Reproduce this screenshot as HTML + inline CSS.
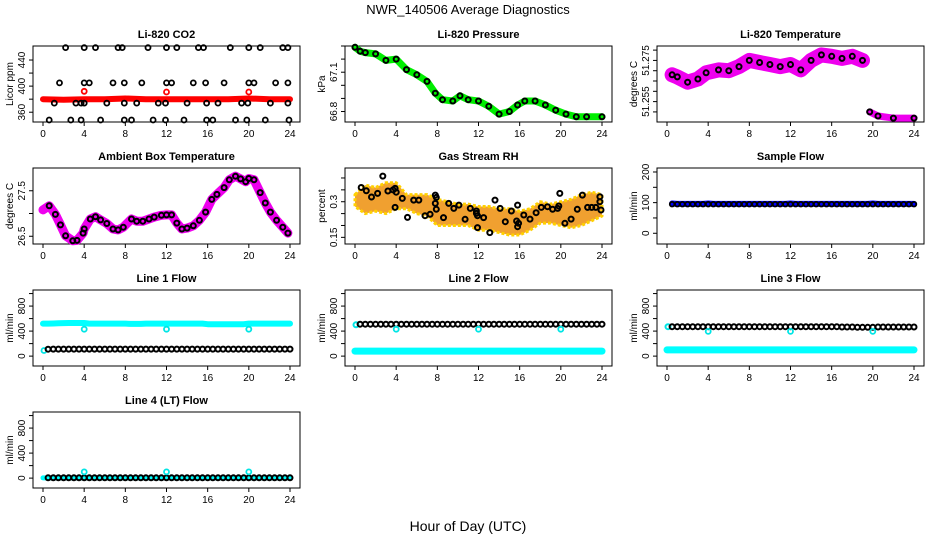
<!DOCTYPE html>
<html><head><meta charset="utf-8"><style>
html,body{margin:0;padding:0;background:#fff;}
svg text{font-family:"Liberation Sans",sans-serif;}
</style></head><body>
<svg id="chart" width="936" height="540" viewBox="0 0 936 540" xmlns="http://www.w3.org/2000/svg">
<text x="468" y="14" font-size="13" text-anchor="middle">NWR_140506  Average Diagnostics</text>
<text x="468" y="531" font-size="14" text-anchor="middle">Hour of Day (UTC)</text>
</svg>
<script>
// ---- data ----
const xTicks = [0,4,8,12,16,20,24];
// CO2
const co2RedHours = [0,2,4,6,8,10,12,14,16,18,20,22,24];
const co2RedVals = [380,379,380,380,381,380,380,380,380,380,381,380,380];
const co2RedOutHours = [4,12,20];
const co2RedOutVals = [392,391,391];
const co2BlkHours = [2.2,4,5.1,7.3,7.7,10.2,12,13,15.1,15.6,18.2,20,21.1,23.3,23.8, 1.6,4,4.5,6.8,7.9,9.6,12,12.5,14.6,15.8,17.6,20,20.5,22.6,23.8, 1.1,3.2,3.7,4,6.2,7.9,9.1,11.2,11.9,14,15.9,17,19.3,19.9,22.1,23.8, 0.6,2.7,3.7,5.6,7.9,8.6,10.7,11.9,13.7,15.9,16.5,18.7,19.8,21.6,23.9];
const co2BlkVals = [459,459,459,459,459,459,459,459,459,459,459,459,459,459,459, 405,405,405,405,405,405,405,405,405,405,405,405,405,405,405, 374,374,374,374,374,374,374,374,374,374,374,374,374,374,374,374, 348,348,348,348,348,348,348,348,348,348,348,348,348,348,348];
// Pressure
const presHours = [0,0.5,1,2,3,4,5,6,7,7.8,8.5,9.5,10.2,11,12,13,14,15,15.8,16.5,17.5,18.5,19.5,20.5,21.5,22.5,24];
const presVals = [67.29,67.26,67.25,67.24,67.19,67.2,67.12,67.08,67.03,66.94,66.89,66.88,66.92,66.89,66.88,66.84,66.78,66.8,66.85,66.88,66.88,66.85,66.81,66.78,66.76,66.76,66.76];
// Li-820 temperature
const tempHours = [0.5,1,2,3,3.8,5,6,7,8,9,10,11,12,13,14,15,16,17,18,19,19.7,20.5,22,24];
const tempVals = [51.268,51.267,51.2644,51.266,51.269,51.2704,51.270,51.272,51.275,51.274,51.273,51.272,51.273,51.2704,51.275,51.2777,51.277,51.276,51.277,51.275,51.25,51.248,51.247,51.247];
// Ambient
const ambHours = [0,0.6,1.2,1.7,2.2,2.9,3.3,3.9,4.0,4.6,5.1,5.6,6.2,6.8,7.3,7.8,8.6,9.1,9.7,10.3,10.8,11.5,12,12.5,13,13.5,14,14.6,15.2,15.8,16.4,16.9,17.6,18.1,18.7,19.2,19.7,20,20.5,21.1,21.6,22.1,22.7,23.3,23.8];
const ambVals = [27.08,27.17,26.98,26.75,26.51,26.40,26.41,26.57,26.66,26.88,26.93,26.86,26.78,26.66,26.64,26.70,26.88,26.83,26.83,26.88,26.92,26.96,26.97,26.97,26.79,26.66,26.68,26.73,26.85,27.03,27.31,27.42,27.57,27.74,27.82,27.76,27.70,27.77,27.74,27.46,27.23,27.03,26.85,26.70,26.57];
// Gas stream RH
const rhBandHours = [0,1,2,3,4,5,6,7,8,9,10,11,12,13,14,15,16,17,18,19,20,21,22,23,24];
const rhUpper = [0.33,0.37,0.36,0.38,0.38,0.33,0.33,0.33,0.31,0.30,0.29,0.29,0.28,0.28,0.27,0.27,0.26,0.27,0.30,0.29,0.30,0.31,0.33,0.34,0.33];
const rhLower = [0.28,0.25,0.26,0.25,0.27,0.27,0.25,0.24,0.20,0.20,0.20,0.20,0.18,0.18,0.17,0.16,0.16,0.18,0.21,0.21,0.20,0.19,0.20,0.22,0.24];
const rhHours = [0.6,1.1,1.6,2.2,2.7,3.2,3.7,3.9,4.0,3.9,4.6,5.1,5.7,6.2,6.8,7.3,7.8,7.9,7.9,7.8,8.6,9.1,9.6,10.1,10.7,11.2,11.8,11.8,11.9,11.9,12.5,13.1,13.6,14.1,14.6,15.2,15.7,15.8,15.8,15.9,16.4,17,17.6,18.1,18.7,19.2,19.7,19.8,19.9,20.4,21,21.6,22.1,22.6,23,23.4,23.8,23.8,23.9];
const rhVals = [0.36,0.346,0.32,0.335,0.408,0.345,0.35,0.356,0.34,0.276,0.314,0.234,0.307,0.307,0.241,0.247,0.328,0.318,0.268,0.293,0.233,0.293,0.272,0.286,0.226,0.272,0.261,0.251,0.241,0.191,0.233,0.17,0.307,0.272,0.216,0.261,0.219,0.286,0.195,0.209,0.244,0.227,0.254,0.276,0.279,0.268,0.272,0.282,0.335,0.209,0.227,0.268,0.328,0.276,0.276,0.276,0.321,0.3,0.265];
// flows: 0.5 h steps from 0.5 to 24
const flowHours = [0.5,1,1.5,2,2.5,3,3.5,4,4.5,5,5.5,6,6.5,7,7.5,8,8.5,9,9.5,10,10.5,11,11.5,12,12.5,13,13.5,14,14.5,15,15.5,16,16.5,17,17.5,18,18.5,19,19.5,20,20.5,21,21.5,22,22.5,23,23.5,24];
const sampleBlue = [97,96,96,96,96,96,96,97,96,96,96,96,96,96,96,96,96,96,96,96,96,96,96,97,96,96,96,96,96,96,96,96,96,96,96,96,96,96,96,97,96,96,96,96,96,96,96,96];
const sampleBlack = [95,95,95,95,95,95,95,95,95,95,95,95,95,95,95,95,95,95,95,95,95,95,95,95,95,95,95,95,95,95,95,95,95,95,95,95,95,95,95,95,95,95,95,95,95,95,95,95];
const line1Cyan = [520,522,525,528,530,530,530,530,520,520,520,520,520,520,520,520,515,515,515,520,520,520,520,520,520,520,520,520,520,520,520,510,510,510,510,510,510,510,510,520,520,520,520,520,520,520,520,520];
const line1Black = [110,112,112,112,112,112,112,112,112,112,112,112,112,112,112,112,112,112,112,112,112,112,112,112,112,112,112,112,112,112,112,112,112,112,112,112,112,112,112,112,112,112,112,112,112,112,112,112];
const line2Black = [510,510,510,510,510,510,510,510,510,510,510,510,510,510,510,510,510,510,510,510,510,510,510,510,510,510,510,510,510,510,510,510,510,510,510,510,510,510,510,510,510,510,510,510,510,510,510,510];
const line2Cyan = [80,80,80,80,80,80,80,80,80,80,80,80,80,80,80,80,80,80,80,80,80,80,80,80,80,80,80,80,80,80,80,80,80,80,80,80,80,80,80,80,80,80,80,80,80,80,80,80];
const line3Black = [470,470,470,470,470,470,470,470,470,470,470,470,470,470,470,470,470,470,470,470,470,470,470,470,470,470,470,470,470,470,470,470,470,465,465,465,460,460,460,460,465,465,465,465,465,465,465,465];
const line3Cyan = [100,100,100,100,100,100,100,100,100,100,100,100,100,100,100,100,100,100,100,100,100,100,100,100,100,100,100,100,100,100,100,100,100,100,100,100,100,100,100,100,100,100,100,100,100,100,100,100];
const line4Black = [5,5,5,5,5,5,5,5,5,5,5,5,5,5,5,5,5,5,5,5,5,5,5,5,5,5,5,5,5,5,5,5,5,5,5,5,5,5,5,5,5,5,5,5,5,5,5,5];
const line4Cyan = [3,3,3,3,3,3,3,3,3,3,3,3,3,3,3,3,3,3,3,3,3,3,3,3,3,3,3,3,3,3,3,3,3,3,3,3,3,3,3,3,3,3,3,3,3,3,3,3];
const outHours = [4,12,20];
const line1Out = [430,430,430];
const line2Out = [430,430,430];
const line3Out = [395,395,395];
const line4Out = [100,100,100];
const line1StartHours = [0.1];
const line1StartVals = [90];
const ch1Starts = [0.1];
const line23StartVals = [500];
const line3StartVals = [470];

// ---- drawing ----
const svg = document.getElementById('chart');
const NS = 'http://www.w3.org/2000/svg';
function mk(tag, attrs, parent){
  const e = document.createElementNS(NS, tag);
  for (const k in attrs) e.setAttribute(k, attrs[k]);
  (parent||svg).appendChild(e);
  return e;
}
function panel(col,row,title,ylab,ymin,ymax,yticks,ylabels,name){
  const L = 33 + 312*col, T = 46 + 122*row, W = 267, H = 76;
  const g = mk('g',{});
  
  
  const xs = h => L + 10 + h*(247/24);
  const ys = v => T + (ymax - v)/(ymax-ymin)*H;
  const box = mk('rect',{x:L,y:T,width:W,height:H,fill:'none',stroke:'#000','stroke-width':1},g);
  
  
  const t = mk('text',{x:L+W/2,y:T-8,'font-size':11,'font-weight':'bold','text-anchor':'middle'},g);
  t.textContent = title;
  
  
  const xa = mk('line',{x1:xs(0),x2:xs(24),y1:T+H,y2:T+H,stroke:'#000'},g);
  
  
  xTicks.forEach(v=>{
    mk('line',{x1:xs(v),x2:xs(v),y1:T+H,y2:T+H+4,stroke:'#000'},g);
    const tl = mk('text',{x:xs(v),y:T+H+15,'font-size':10,'text-anchor':'middle'},g);
    tl.textContent = v;
    
    
  });
  const ya = mk('line',{x1:L,x2:L,y1:ys(yticks[0]),y2:ys(yticks[yticks.length-1]),stroke:'#000'},g);
  
  
  yticks.forEach(v=>{
    mk('line',{x1:L-4,x2:L,y1:ys(v),y2:ys(v),stroke:'#000'},g);
  });
  ylabels.forEach(v=>{
    const y = ys(v);
    const tl = mk('text',{x:L-8,y:y,'font-size':10,'text-anchor':'middle',transform:`rotate(-90 ${L-8} ${y})`},g);
    tl.textContent = String(v);
    
    
  });
  const yt = mk('text',{x:L-20,y:T+H/2,'font-size':10,'text-anchor':'middle',transform:`rotate(-90 ${L-20} ${T+H/2})`},g);
  yt.textContent = ylab;
  
  
  return {g,xs,ys};
}
function band(p,hours,vals,color,w,name){
  const pts = hours.map((h,i)=>p.xs(h).toFixed(1)+','+p.ys(vals[i]).toFixed(1)).join(' ');
  const e = mk('polyline',{points:pts,fill:'none',stroke:color,'stroke-width':w,'stroke-linejoin':'round','stroke-linecap':'round'},p.g);
  
  
}
function pts(p,hours,vals,color,r,sw,name){
  hours.forEach((h,i)=>{
    const c = mk('circle',{cx:p.xs(h).toFixed(1),cy:p.ys(vals[i]).toFixed(1),r:r,fill:'none',stroke:color,'stroke-width':sw},p.g);
    
    
  });
}
const blk = '#000';
let p = panel(0,0,'Li-820 CO2','Licor ppm',345,461.5,[360,380,400,420,440],[360,400,440],'panel-co2');
band(p,co2RedHours,co2RedVals,'#ff0000',6,'co2-red-band');
pts(p,co2RedOutHours,co2RedOutVals,'#ff0000',2.5,1.8,'co2-red-point');
pts(p,co2BlkHours,co2BlkVals,blk,2.5,1.8,'co2-point');
p = panel(1,0,'Li-820 Pressure','kPa',66.72,67.30,[66.8,66.9,67.0,67.1,67.2,67.3],[66.8,67.1],'panel-pressure');
band(p,presHours,presVals,'#00ee00',7,'pressure-green-band');
pts(p,presHours,presVals,blk,2.5,2,'pressure-point');
p = panel(2,0,'Li-820 Temperature','degrees C',51.2451,51.282,[51.25,51.255,51.26,51.265,51.27,51.275,51.28],[51.255,51.275],'panel-li820-temp');
band(p,tempHours.slice(0,20),tempVals.slice(0,20),'#ee00ee',15,'temp-magenta-band');
band(p,tempHours.slice(20),tempVals.slice(20),'#ee00ee',7,'temp-magenta-band-late');
pts(p,tempHours,tempVals,blk,2.5,2,'temp-point');
p = panel(0,1,'Ambient Box Temperature','degrees C',26.33,28.0,[26.5,27.0,27.5],[26.5,27.5],'panel-ambient');
band(p,ambHours,ambVals,'#ee00ee',9,'ambient-magenta-band');
pts(p,ambHours.slice(1),ambVals.slice(1),blk,2.5,2,'ambient-point');
p = panel(1,1,'Gas Stream RH','percent',0.122,0.442,[0.15,0.2,0.25,0.3,0.35,0.4],[0.15,0.30],'panel-rh');
{
  const up = rhBandHours.map((h,i)=>p.xs(h).toFixed(1)+','+p.ys(rhUpper[i]).toFixed(1));
  const lo = rhBandHours.map((h,i)=>p.xs(h).toFixed(1)+','+p.ys(rhLower[i]).toFixed(1)).reverse();
  const e = mk('polygon',{points:up.concat(lo).join(' '),fill:'#f0a030',stroke:'#ffd000','stroke-width':3,'stroke-linejoin':'round','stroke-dasharray':'3 2'},p.g);
  
  
}
pts(p,rhHours,rhVals,blk,2.5,2,'rh-point');
p = panel(2,1,'Sample Flow','ml/min',-35,213,[0,50,100,150,200],[0,100,200],'panel-sample-flow');
band(p,flowHours,sampleBlue,'#0000ff',6,'sample-blue-band');
pts(p,flowHours,sampleBlack,blk,2.3,1.8,'sample-point');
const fT = [0,200,400,600,800,1000], fL = [0,400,800];
p = panel(0,2,'Line 1 Flow','ml/min',-158,1057,fT,fL,'panel-line1');
band(p,[0].concat(flowHours),[520].concat(line1Cyan),'#00ffff',6,'line1-cyan-band');
pts(p,outHours,line1Out,'#00e5e5',2.5,1.8,'line1-cyan-point');
pts(p,line1StartHours,line1StartVals,'#00e5e5',2.5,1.8,'line1-cyan-start');
pts(p,flowHours,line1Black,blk,2.5,2,'line1-point');
p = panel(1,2,'Line 2 Flow','ml/min',-158,1057,fT,fL,'panel-line2');
band(p,[0].concat(flowHours),[80].concat(line2Cyan),'#00ffff',7,'line2-cyan-band');
pts(p,ch1Starts,line23StartVals,'#00e5e5',2.5,2,'line2-cyan-start');
pts(p,flowHours,line2Black,blk,2.5,2,'line2-point');
pts(p,outHours,line2Out,'#00e5e5',2.5,1.8,'line2-cyan-point');
p = panel(2,2,'Line 3 Flow','ml/min',-158,1057,fT,fL,'panel-line3');
band(p,[0].concat(flowHours),[100].concat(line3Cyan),'#00ffff',7,'line3-cyan-band');
pts(p,ch1Starts,line3StartVals,'#00e5e5',2.5,2,'line3-cyan-start');
pts(p,flowHours,line3Black,blk,2.5,2,'line3-point');
pts(p,outHours,line3Out,'#00e5e5',2.5,1.8,'line3-cyan-point');
p = panel(0,3,'Line 4 (LT) Flow','ml/min',-158,1057,fT,fL,'panel-line4');
band(p,[0].concat(flowHours),[3].concat(line4Cyan),'#00ffff',5,'line4-cyan-band');
pts(p,flowHours,line4Black,blk,2.5,2,'line4-point');
pts(p,outHours,line4Out,'#00e5e5',2.5,1.8,'line4-cyan-point');
</script>
</body></html>
